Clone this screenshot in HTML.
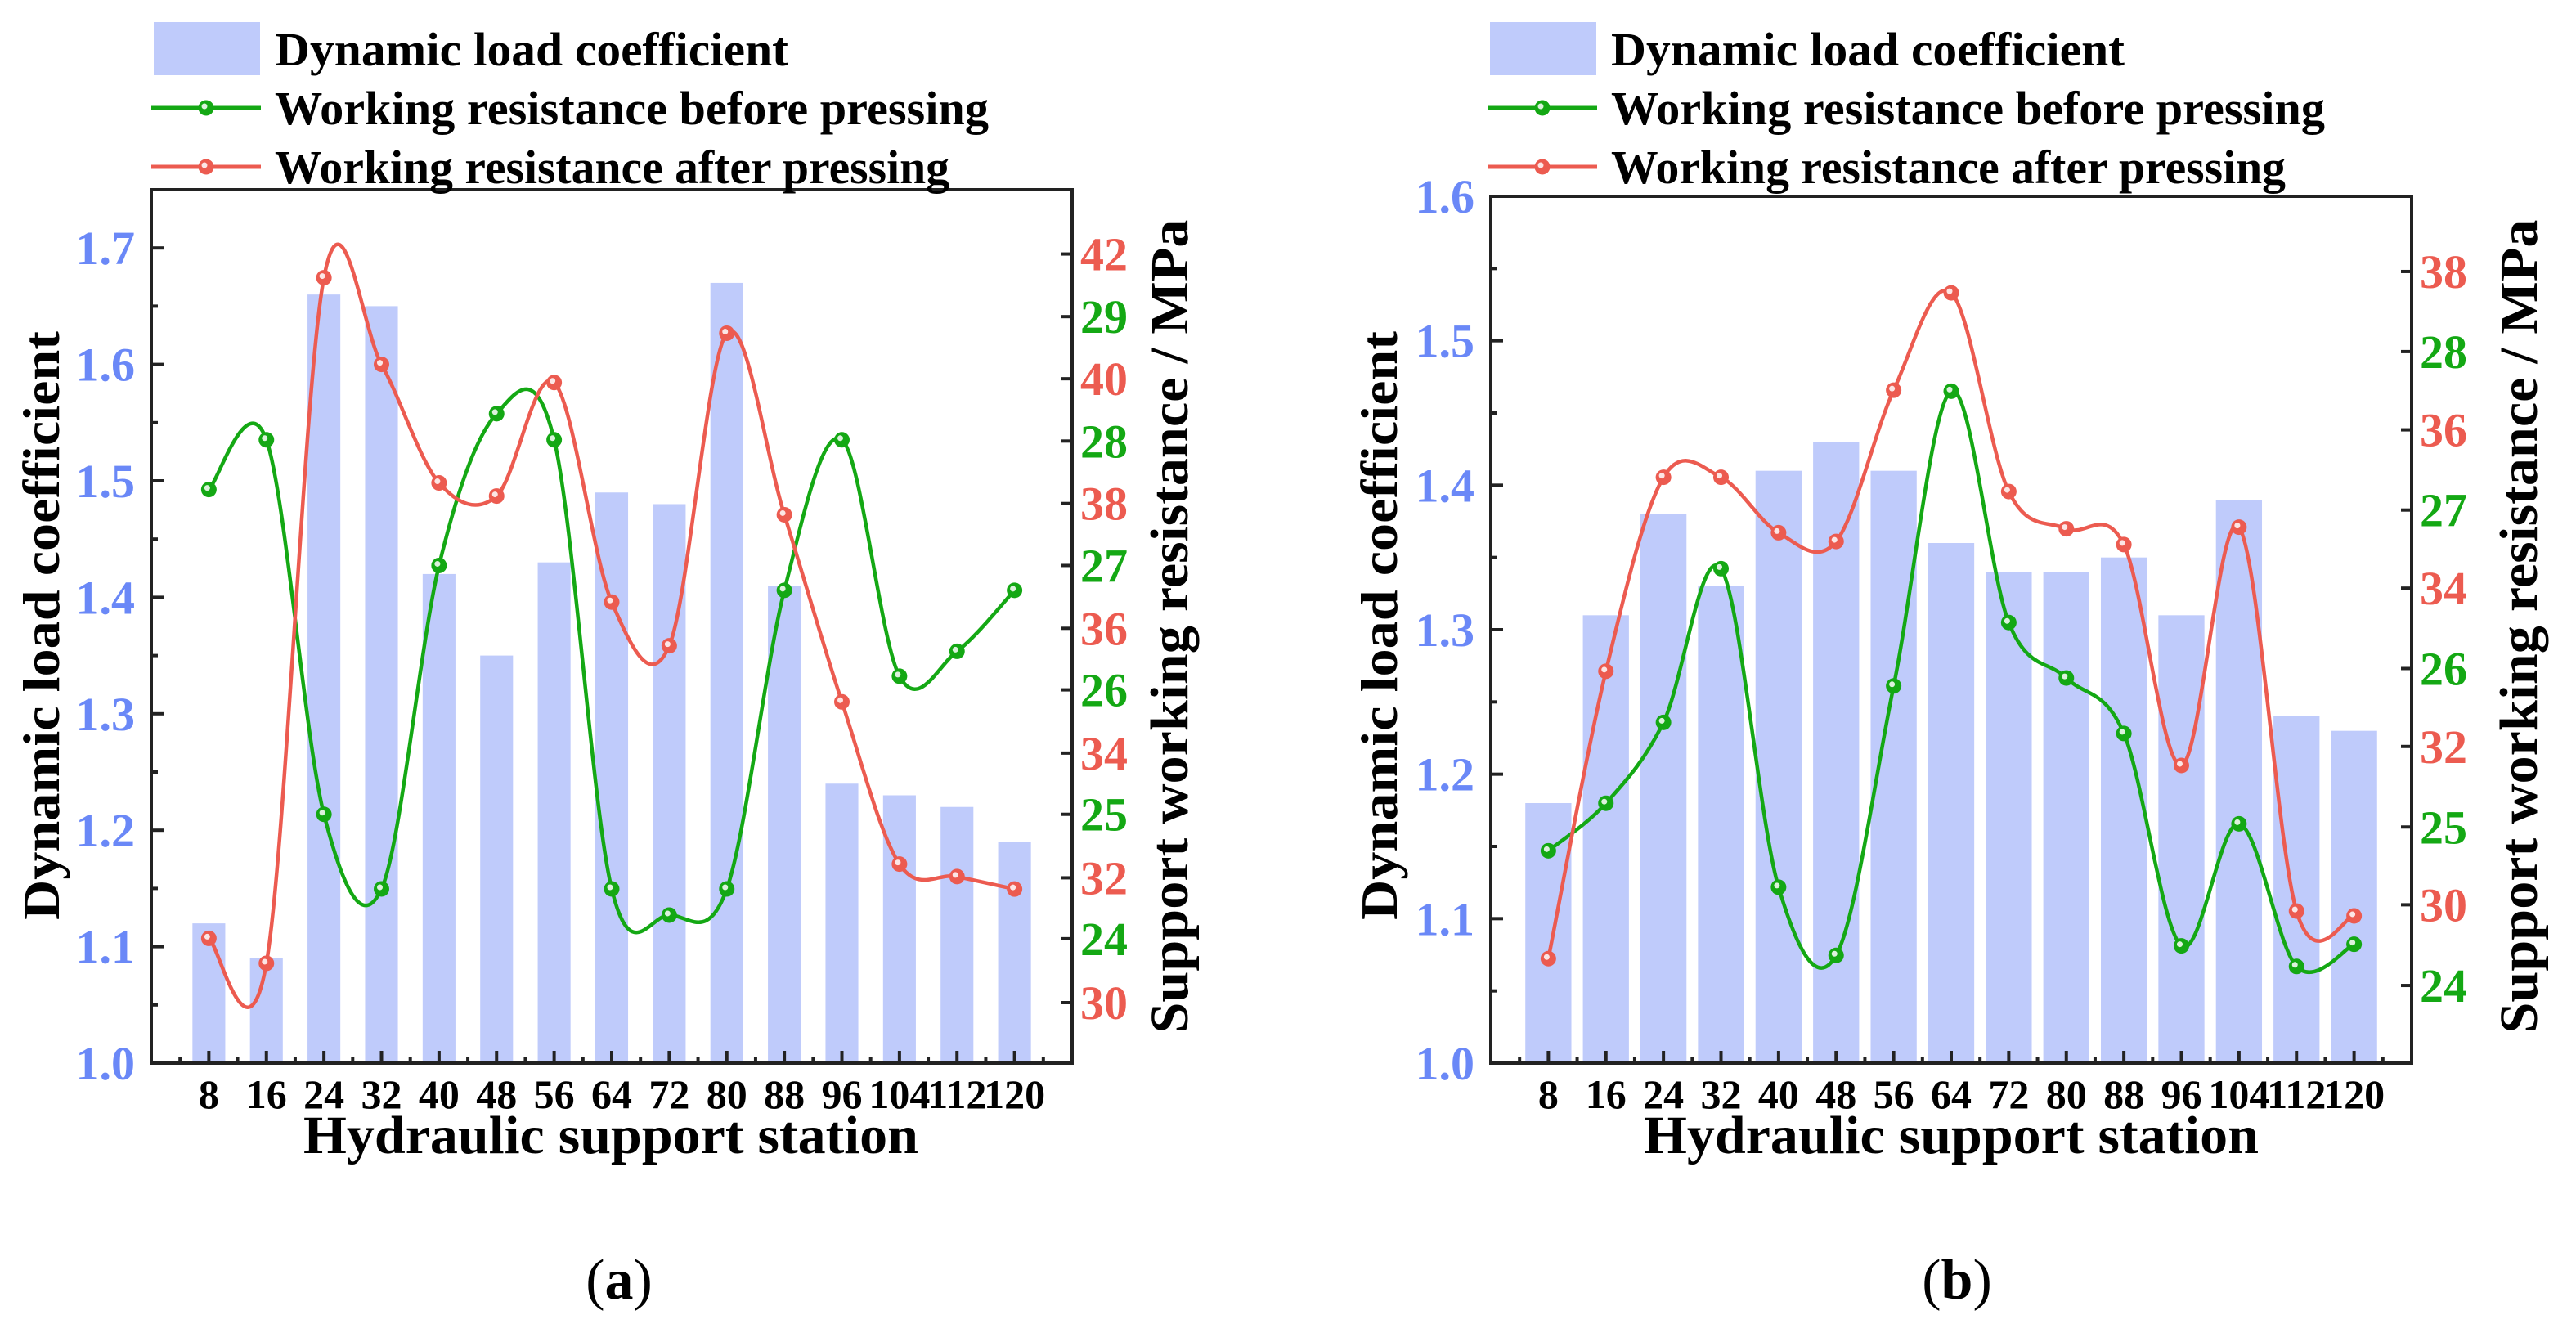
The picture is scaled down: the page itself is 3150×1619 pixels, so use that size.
<!DOCTYPE html>
<html><head><meta charset="utf-8"><style>
html,body{margin:0;padding:0;background:#fff}
svg{display:block;font-family:"Liberation Serif",serif;font-weight:bold}
</style></head><body>
<svg id="chart" width="3150" height="1619" viewBox="0 0 3150 1619" xmlns="http://www.w3.org/2000/svg">
<rect width="3150" height="1619" fill="#fff"/>
</svg>
<script>
const categories = [8,16,24,32,40,48,56,64,72,80,88,96,104,112,120];
const barsA = [1.12,1.09,1.66,1.65,1.42,1.35,1.43,1.49,1.48,1.67,1.41,1.24,1.23,1.22,1.19];
const greenA = [27.61,28.01,25.0,24.40,27.0,28.22,28.01,24.40,24.19,24.40,26.80,28.01,26.11,26.31,26.80];
const redA = [31.03,30.63,41.62,40.23,38.33,38.12,39.94,36.42,35.72,40.73,37.82,34.82,32.22,32.02,31.82];
const barsB = [1.18,1.31,1.38,1.33,1.41,1.43,1.41,1.36,1.34,1.34,1.35,1.31,1.39,1.24,1.23];
const greenB = [24.85,25.15,25.66,26.63,24.62,24.19,25.89,27.75,26.29,25.94,25.59,24.25,25.02,24.12,24.26];
const redB = [29.32,32.95,35.40,35.40,34.70,34.59,36.50,37.73,35.22,34.75,34.55,31.76,34.77,29.92,29.86];
const leftTicksA = [1.0,1.1,1.2,1.3,1.4,1.5,1.6,1.7];
const redTicksA = [30,32,34,36,38,40,42];
const greenTicksA = [24,25,26,27,28,29];
const leftTicksB = [1.0,1.1,1.2,1.3,1.4,1.5,1.6];
const redTicksB = [30,32,34,36,38];
const greenTicksB = [24,25,26,27,28];

const NS = "http://www.w3.org/2000/svg";
const svg = document.getElementById('chart');
const BLUE="#6a88f7", GREEN="#14a814", RED="#ec5b50", BAR="#bfcbfb";
function mk(tag, attrs, parent){const e=document.createElementNS(NS,tag);for(const k in attrs)e.setAttribute(k,attrs[k]);(parent||svg).appendChild(e);return e;}
function txt(s, attrs, parent){const e=mk('text',attrs,parent);e.textContent=s;return e;}

function spline(pts){
  let d=`M${pts[0][0]},${pts[0][1]}`;
  for(let i=0;i<pts.length-1;i++){
    const p0=pts[i-1]||pts[i], p1=pts[i], p2=pts[i+1], p3=pts[i+2]||pts[i+1];
    const t=1/6;
    const c1=[p1[0]+(p2[0]-p0[0])*t, p1[1]+(p2[1]-p0[1])*t];
    const c2=[p2[0]-(p3[0]-p1[0])*t, p2[1]-(p3[1]-p1[1])*t];
    d+=` C${c1[0]},${c1[1]} ${c2[0]},${c2[1]} ${p2[0]},${p2[1]}`;
  }
  return d;
}

function panel(o){
  const g=mk('g',{});
  
  
  const X=i=>o.left+(i+1)*(o.right-o.left)/16;
  const YL=v=>o.bottom-(v-o.lmin)/(o.lmax-o.lmin)*(o.bottom-o.top);
  const YR=v=>o.bottom-(v-o.rmin)/(o.rmax-o.rmin)*(o.bottom-o.top);
  const YG=v=>o.bottom-(v-o.gmin)/(o.gmax-o.gmin)*(o.bottom-o.top);
  const step=(o.right-o.left)/16, bw=step*o.barFrac;
  o.bars.forEach((v,i)=>{
    const r=mk('rect',{x:X(i)-bw/2,y:YL(v),width:bw,height:o.bottom-YL(v),fill:BAR},g);
    
    
  });
  [[o.green,YG,GREEN,'green-line-before'],[o.red,YR,RED,'red-line-after']].forEach(([arr,Y,c,n])=>{
    const pts=arr.map((v,i)=>[X(i),Y(v)]);
    const p=mk('path',{d:spline(pts),fill:'none',stroke:c,'stroke-width':4.5},g);
    
    
    pts.forEach((q,i)=>{
      const m=mk('circle',{cx:q[0],cy:q[1],r:9.5,fill:c},g);
      
      
      mk('circle',{cx:q[0]-2,cy:q[1]-2,r:3.5,fill:'#fff',opacity:0.85},g);
    });
  });
  const f=mk('rect',{x:o.left,y:o.top,width:o.right-o.left,height:o.bottom-o.top,fill:'none',stroke:'#222','stroke-width':4},g);
  
  
  categories.forEach((c,i)=>{
    mk('line',{x1:X(i),x2:X(i),y1:o.bottom,y2:o.bottom-15,stroke:'#222','stroke-width':4},g);
    mk('line',{x1:X(i)-step/2,x2:X(i)-step/2,y1:o.bottom,y2:o.bottom-8,stroke:'#222','stroke-width':4},g);
    const t=txt(String(c),{x:X(i),y:o.bottom+55,'font-size':50,'text-anchor':'middle',fill:'#000'},g);
    
    
  });
  mk('line',{x1:X(14)+step/2,x2:X(14)+step/2,y1:o.bottom,y2:o.bottom-8,stroke:'#222','stroke-width':4},g);
  o.lt.forEach(v=>{
    mk('line',{x1:o.left,x2:o.left+15,y1:YL(v),y2:YL(v),stroke:'#222','stroke-width':4},g);
    if(v+0.05<=o.lmax+1e-9) mk('line',{x1:o.left,x2:o.left+8,y1:YL(v+0.05),y2:YL(v+0.05),stroke:'#222','stroke-width':4},g);
    const t=txt(v.toFixed(1),{x:o.left-20,y:YL(v)+20,'font-size':58,'text-anchor':'end',fill:BLUE},g);
    
    
  });
  [[o.rt,YR,RED],[o.gt,YG,GREEN]].forEach(([ticks,Y,c])=>{
    ticks.forEach(v=>{
      mk('line',{x1:o.right,x2:o.right-13,y1:Y(v),y2:Y(v),stroke:'#222','stroke-width':4},g);
      const t=txt(String(v),{x:o.right+10,y:Y(v)+20,'font-size':58,fill:c},g);
      
      
    });
  });
  const lt=txt('Dynamic load coefficient',{x:0,y:0,'font-size':64,'text-anchor':'middle',textLength:720,lengthAdjust:'spacingAndGlyphs',transform:`translate(${o.ltx},765) rotate(-90)`,fill:'#000'},g);
  
  
  const rt=txt('Support working resistance / MPa',{x:0,y:0,'font-size':66,'text-anchor':'middle',textLength:995,lengthAdjust:'spacingAndGlyphs',transform:`translate(${o.rtx},766) rotate(-90)`,fill:'#000'},g);
  
  
  const xt=txt('Hydraulic support station',{x:o.xtx,y:1410,'font-size':66,'text-anchor':'middle',textLength:752,lengthAdjust:'spacingAndGlyphs',fill:'#000'},g);
  
  
  const L=o.legX;
  const sw=mk('rect',{x:L,y:27,width:130,height:65,fill:BAR},g);
  
  
  [['Dynamic load coefficient',80,null,'legend-entry-bar',628],['Working resistance before pressing',152,GREEN,'legend-entry-before',873],['Working resistance after pressing',224,RED,'legend-entry-after',825]].forEach(([s,y,c,n,w])=>{
    if(c){
      mk('line',{x1:L-3,x2:L+131,y1:y-20,y2:y-20,stroke:c,'stroke-width':5},g);
      mk('circle',{cx:L+64,cy:y-20,r:9.5,fill:c},g);
      mk('circle',{cx:L+62,cy:y-22,r:3.5,fill:'#fff',opacity:0.85},g);
    }
    const t=txt(s,{x:L+148,y:y,'font-size':58,textLength:w,lengthAdjust:'spacingAndGlyphs',fill:'#000'},g);
    
    
  });
  const pl=mk('text',{x:o.labX,y:1588,'font-size':70,'font-weight':'normal','text-anchor':'middle',fill:'#000'},g);
  
  
  const s1=mk('tspan',{},pl); s1.textContent='(';
  const s2=mk('tspan',{'font-weight':'bold'},pl); s2.textContent=o.label;
  const s3=mk('tspan',{},pl); s3.textContent=')';
}

panel({name:'panel-a',left:185,right:1311,top:232,bottom:1300,lmin:1.0,lmax:1.75,rmin:29.03,rmax:43.03,gmin:23.0,gmax:30.02,barFrac:0.57,
  bars:barsA,green:greenA,red:redA,lt:leftTicksA,rt:redTicksA,gt:greenTicksA,ltx:72,rtx:1452,xtx:747,legX:188,label:'a',labX:757});
panel({name:'panel-b',left:1823,right:2949,top:240,bottom:1300,lmin:1.0,lmax:1.6,rmin:28.0,rmax:38.95,gmin:23.51,gmax:28.98,barFrac:0.8,
  bars:barsB,green:greenB,red:redB,lt:leftTicksB,rt:redTicksB,gt:greenTicksB,ltx:1708,rtx:3102,xtx:2386,legX:1822,label:'b',labX:2393});
</script>
</body></html>
